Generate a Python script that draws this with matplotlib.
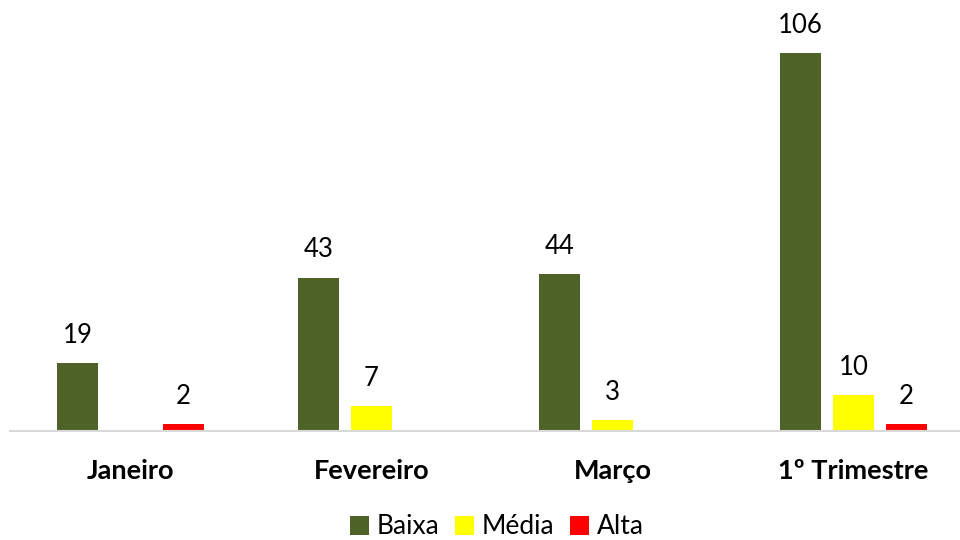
import numpy as np
import matplotlib.pyplot as plt
from matplotlib.patches import Patch

plt.rcParams['font.family'] = ['Lato', 'DejaVu Sans']

meses = ["Janeiro", "Fevereiro", "Março", "1º Trimestre"]
baixa = [19, 43, 44, 106]
media = [0, 7, 3, 10]
alta = [2, 0, 0, 2]

series = [("Baixa", baixa, "#4F6228"),
          ("Média", media, "#FFFF00"),
          ("Alta", alta, "#FF0000")]

fig = plt.figure(figsize=(9.6, 5.4), dpi=100)
ax = fig.add_axes([10 / 960, 109 / 540, 964 / 960, 428 / 540])

x = np.arange(len(meses))
w = 0.174
offsets = [-0.22, 0, 0.22]

for (nome, vals, cor), off in zip(series, offsets):
    bars = ax.bar(x + off, vals, width=w, color=cor, zorder=2)
    for b, v in zip(bars, vals):
        if v == 0:
            continue
        ax.annotate(str(v), (b.get_x() + b.get_width() / 2, v),
                    xytext=(0, 11), textcoords="offset points",
                    ha="center", va="bottom", fontsize=18.5, color="black")

ax.set_xlim(-0.5, 3.5)
ax.set_ylim(0, 120)
for s in ["top", "right", "left"]:
    ax.spines[s].set_visible(False)
ax.spines["bottom"].set_color("#D9D9D9")
ax.spines["bottom"].set_linewidth(1.5)
ax.set_yticks([])
ax.set_xticks(x)
ax.set_xticklabels(meses, fontsize=19.5, fontweight="bold")
ax.tick_params(axis="x", length=0, pad=20)

handles = [Patch(facecolor=c, label=n) for n, _, c in series]
fig.legend(handles=handles, loc="center", bbox_to_anchor=(497 / 960, 13 / 540),
           ncol=3, frameon=False, fontsize=19, handlelength=0.7,
           handleheight=0.7, handletextpad=0.3, columnspacing=0.6)

fig.savefig("out.png", dpi=100)
